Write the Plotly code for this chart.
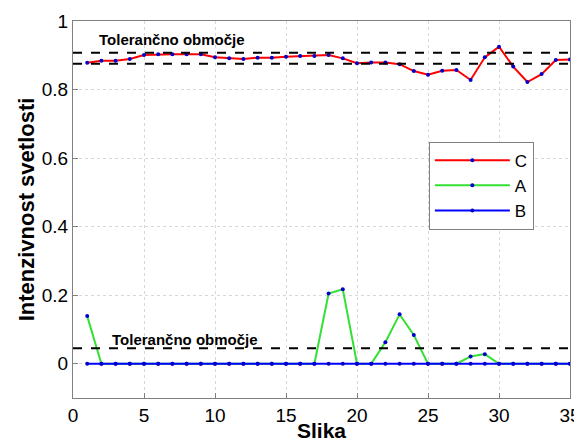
import plotly.graph_objects as go

slika = list(range(1, 36))
C = [0.878, 0.884, 0.884, 0.889, 0.901, 0.903, 0.903, 0.903, 0.903, 0.894,
     0.891, 0.889, 0.893, 0.893, 0.896, 0.898, 0.898, 0.901, 0.891, 0.877,
     0.879, 0.879, 0.874, 0.854, 0.843, 0.855, 0.857, 0.828, 0.894, 0.925,
     0.867, 0.822, 0.845, 0.886, 0.888]
A = [0.139, 0, 0, 0, 0, 0, 0, 0, 0, 0,
     0, 0, 0, 0, 0, 0, 0, 0.205, 0.217, 0,
     0, 0.063, 0.144, 0.084, 0, 0, 0, 0.021, 0.028, 0,
     0, 0, 0, 0, 0]
B = [0] * 35
tol_upper = [0.907, 0.875]
tol_lower = [0.045]
tol_label = "Tolerančno območje"

font = "Liberation Sans, Arial, sans-serif"
fig = go.Figure()
for name, vals, col in [("C", C, "#ff0000"), ("A", A, "#33e033"), ("B", B, "#0000ff")]:
    fig.add_trace(go.Scatter(x=slika, y=vals, mode="lines+markers", name=name,
                             line=dict(color=col, width=2),
                             marker=dict(color="#0000cc", size=4)))

for v in tol_upper + tol_lower:
    fig.add_shape(type="line", xref="paper", x0=0, x1=1, yref="y", y0=v, y1=v,
                  line=dict(color="black", width=2, dash="dash"))

fig.add_annotation(x=1.7, y=0.945, xref="x", yref="y", text="<b>" + tol_label + "</b>",
                   showarrow=False, xanchor="left", yanchor="middle",
                   font=dict(family=font, size=15, color="black"))
fig.add_annotation(x=2.6, y=0.071, xref="x", yref="y", text="<b>" + tol_label + "</b>",
                   showarrow=False, xanchor="left", yanchor="middle",
                   font=dict(family=font, size=15, color="black"))

axis_common = dict(showline=True, linecolor="#808080", linewidth=1, mirror=True,
                   ticks="inside", ticklen=5, tickcolor="#808080", automargin=False,
                   showgrid=True, gridcolor="#d8d8d8", griddash="dot", zeroline=False,
                   tickfont=dict(family=font, size=19, color="black"))
fig.update_xaxes(range=[0, 35], dtick=5, tick0=0,
                 title=dict(text="<b>Slika</b>", font=dict(family=font, size=21, color="black"), standoff=0),
                 **axis_common)
fig.update_yaxes(range=[-0.1, 1], dtick=0.2, tick0=0,
                 title=dict(text="<b>Intenzivnost svetlosti</b>", font=dict(family=font, size=22, color="black"), standoff=1),
                 **axis_common)

# the page body adds an 8px offset, so the figure is sized to fit the remaining window
fig.update_layout(width=574, height=434, margin=dict(l=65, r=12, t=13, b=44),
                  plot_bgcolor="white", paper_bgcolor="white",
                  legend=dict(x=0.716, y=0.68, xanchor="left", yanchor="top",
                              bgcolor="white", bordercolor="#808080", borderwidth=1,
                              font=dict(family=font, size=17, color="black"),
                              itemwidth=75, entrywidth=145, tracegroupgap=0))
fig.write_html("out.html")
